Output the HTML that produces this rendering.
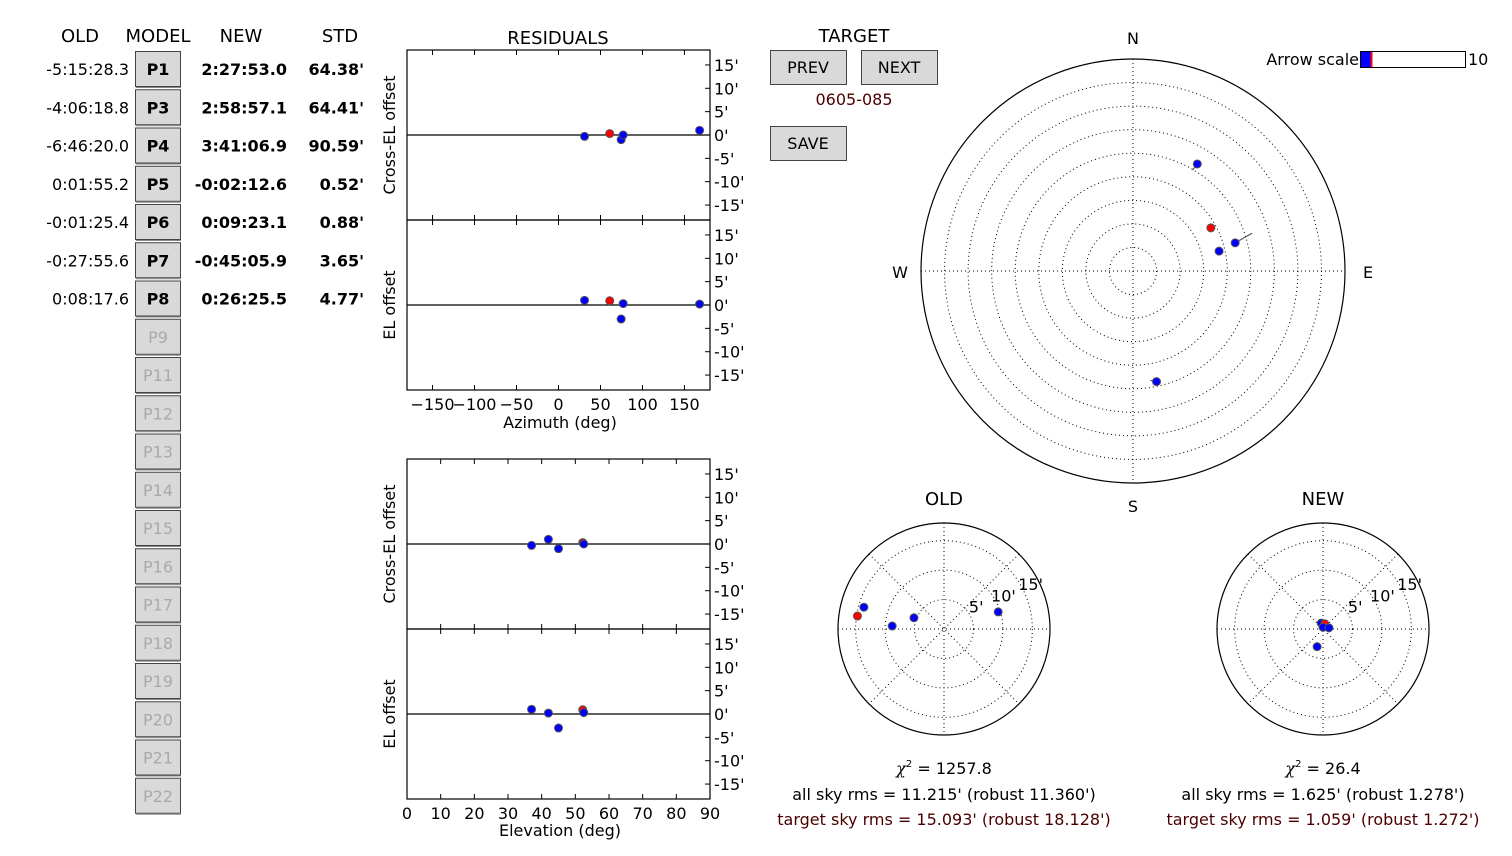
<!DOCTYPE html>
<html><head><meta charset="utf-8"><style>
body{margin:0;background:#fff;width:1512px;height:851px;overflow:hidden}
svg text{font-family:"DejaVu Sans","Liberation Sans",sans-serif}
</style></head><body>
<svg id="s" width="1512" height="851" xmlns="http://www.w3.org/2000/svg"></svg>
<script>
const oldVals=["-5:15:28.3","-4:06:18.8","-6:46:20.0","0:01:55.2","-0:01:25.4","-0:27:55.6","0:08:17.6"];
const newVals=["2:27:53.0","2:58:57.1","3:41:06.9","-0:02:12.6","0:09:23.1","-0:45:05.9","0:26:25.5"];
const stdVals=["64.38'","64.41'","90.59'","0.52'","0.88'","3.65'","4.77'"];
const params=["P1","P3","P4","P5","P6","P7","P8","P9","P11","P12","P13","P14","P15","P16","P17","P18","P19","P20","P21","P22"];
// sources
const srcAz=[31,61,74.6,77,168];
const srcEl=[37,52.2,45,52.5,42];
const srcTarget=[false,true,false,false,false];
const resXel=[-0.3,0.3,-1,0,1];
const resEl=[1,0.9,-3,0.3,0.2];
const oldXel=[-13.6,-14.7,-5.1,-8.8,9.2];
const oldEl=[3.7,2.2,1.9,0.5,2.9];
const arrowDx=[-0.8,0,2.8,0,-1];
const arrowDy=[-1,0,1.6,0,0.2];
const resTicks=[15,10,5,0,-5,-10,-15];
const azTicks=[-150,-100,-50,0,50,100,150];
const elTicks=[0,10,20,30,40,50,60,70,80,90];
const ringTicks=[5,10,15];

const S=document.getElementById('s');const NS='http://www.w3.org/2000/svg';
function el(tag,a,p){const e=document.createElementNS(NS,tag);for(const k in a)e.setAttribute(k,a[k]);(p||S).appendChild(e);return e;}
function tx(x,y,t,a,p){a=Object.assign({x:x,y:y,'font-size':16,fill:'#000'},a||{});const e=el('text',a,p);e.textContent=t;return e;}

// left table
let h;
h=tx(80,42,"OLD",{'text-anchor':'middle','font-size':18});
h=tx(158,42,"MODEL",{'text-anchor':'middle','font-size':18});
h=tx(241,42,"NEW",{'text-anchor':'middle','font-size':18});
h=tx(340,42,"STD",{'text-anchor':'middle','font-size':18});
for(let i=0;i<params.length;i++){
  const y=51+i*38.25;
  const g=el('g',{});
  
  
  el('rect',{x:135.5,y:y+0.5,width:45,height:35,fill:'#d9d9d9',stroke:'#444','stroke-width':1},g);
  el('line',{x1:136,y1:y+36.5,x2:181,y2:y+36.5,stroke:'#888'},g);
  tx(158,y+24,params[i],{'text-anchor':'middle','font-weight':i<7?'bold':'normal',fill:i<7?'#000':'#aaa'},g);
  if(i<7){
    let t=tx(129,y+24,oldVals[i],{'text-anchor':'end'});
    t=tx(287,y+24,newVals[i],{'text-anchor':'end','font-weight':'bold'});
    t=tx(364,y+24,stdVals[i],{'text-anchor':'end','font-weight':'bold'});
  }
}

// residual panels
function panel(x0,y0,w,hh,xmin,xmax,xs,ys,ylab,xticks,showX){
  const g=el('g',{});
  
  
  const X=v=>x0+(v-xmin)/(xmax-xmin)*w;
  const Y=v=>y0+hh/2-v*hh/2/18.2;
  el('rect',{x:x0,y:y0,width:w,height:hh,fill:'none',stroke:'#000','stroke-width':1.2},g);
  el('line',{x1:x0,x2:x0+w,y1:Y(0),y2:Y(0),stroke:'#000','stroke-width':1.2},g);
  for(const t of resTicks){el('line',{x1:x0+w,x2:x0+w-5,y1:Y(t),y2:Y(t),stroke:'#000'},g);
    tx(x0+w+4,Y(t)+6,t+"'",{},g);}
  for(const t of xticks){el('line',{x1:X(t),x2:X(t),y1:y0+hh,y2:y0+hh-5,stroke:'#000'},g);el('line',{x1:X(t),x2:X(t),y1:y0,y2:y0+5,stroke:'#000'},g);
    if(showX)tx(X(t),y0+hh+20,String(t).replace('-','\u2212'),{'text-anchor':'middle'},g);}
  tx(0,0,ylab,{'text-anchor':'middle',transform:`translate(${x0-12},${y0+hh/2}) rotate(-90)`},g);
  for(let i=0;i<xs.length;i++){const c=el('circle',{cx:X(xs[i]),cy:Y(ys[i]),r:4,fill:srcTarget[i]?'#f00':'#00f',stroke:'#555','stroke-width':1},g);
    }
}
tx(558,44,"RESIDUALS",{'text-anchor':'middle','font-size':18});
panel(407,50,303,170,-180.4,180.4,srcAz,resXel,"Cross-EL offset",azTicks,false);
panel(407,220,303,170,-180.4,180.4,srcAz,resEl,"EL offset",azTicks,true);
tx(560,428,"Azimuth (deg)",{'text-anchor':'middle'});
panel(407,459,303,170,0,90,srcEl,resXel,"Cross-EL offset",elTicks,false);
panel(407,629,303,170,0,90,srcEl,resEl,"EL offset",elTicks,true);
tx(560,836,"Elevation (deg)",{'text-anchor':'middle'});

// target buttons
tx(854,42,"TARGET",{'text-anchor':'middle','font-size':18});
function btn(x,y,w,hh,t,n){const g=el('g',{});
  el('rect',{x:x+.5,y:y+.5,width:w,height:hh,fill:'#d9d9d9',stroke:'#444'},g);tx(x+w/2,y+hh/2+6,t,{'text-anchor':'middle'},g);}
btn(770,50,76,34,"PREV","prev-button");btn(861,50,76,34,"NEXT","next-button");btn(770,126,76,34,"SAVE","save-button");
tx(854,105,"0605-085",{'text-anchor':'middle',fill:'#4b0000'});

// arrow scale
tx(1359,65,"Arrow scale",{'text-anchor':'end'});
h=el('rect',{x:1360.5,y:51.5,width:105,height:16,fill:'#fff',stroke:'#000'});
el('rect',{x:1361,y:52,width:10,height:15,fill:'#00f'});
el('line',{x1:1371.5,x2:1371.5,y1:52,y2:67,stroke:'#f00','stroke-width':2});
tx(1468,65,"10",{});

// big sky polar
(function(){const cx=1133,cy=271,R=212;const g=el('g',{});
  for(let z=10;z<90;z+=10)el('circle',{cx:cx,cy:cy,r:R*z/90,fill:'none',stroke:'#000','stroke-width':1,'stroke-dasharray':'1,3'},g);
  el('line',{x1:cx-R,x2:cx+R,y1:cy,y2:cy,stroke:'#000','stroke-dasharray':'1,3'},g);
  el('line',{x1:cx,x2:cx,y1:cy-R,y2:cy+R,stroke:'#000','stroke-dasharray':'1,3'},g);
  el('circle',{cx:cx,cy:cy,r:R,fill:'none',stroke:'#000','stroke-width':1.2},g);
  tx(cx,44,"N",{'text-anchor':'middle'},g);tx(cx,512,"S",{'text-anchor':'middle'},g);
  tx(900,278,"W",{'text-anchor':'middle'},g);tx(1368,278,"E",{'text-anchor':'middle'},g);
  for(let i=0;i<srcAz.length;i++){const r=R*(90-srcEl[i])/90,a=srcAz[i]*Math.PI/180;const x=cx+r*Math.sin(a),y=cy-r*Math.cos(a);
    el('line',{x1:x,y1:y,x2:x+arrowDx[i]*6,y2:y-arrowDy[i]*6,stroke:'#555','stroke-width':1.2},g);
    const c=el('circle',{cx:x,cy:y,r:4,fill:srcTarget[i]?'#f00':'#00f',stroke:'#555'},g);
    }
})();

// small polars
function small(cx,title,xs,ys,chi,rms,trms,n){const cy=629,R=106,k=R/18;const g=el('g',{});
  tx(cx,505,title,{'text-anchor':'middle','font-size':18},g);
  for(const r of ringTicks)el('circle',{cx:cx,cy:cy,r:r*k,fill:'none',stroke:'#000','stroke-dasharray':'1,3'},g);
  for(let a=0;a<180;a+=45){const c=Math.cos(a*Math.PI/180),s=Math.sin(a*Math.PI/180);
    el('line',{x1:cx-R*c,y1:cy-R*s,x2:cx+R*c,y2:cy+R*s,stroke:'#000','stroke-dasharray':'1,3'},g);}
  el('circle',{cx:cx,cy:cy,r:R,fill:'none',stroke:'#000','stroke-width':1.2},g);
  for(const r of ringTicks){const a=22.5*Math.PI/180;tx(cx+r*k*Math.cos(a)+5,cy-r*k*Math.sin(a)-5,r+"'",{'text-anchor':'middle'},g);}
  for(let i=0;i<xs.length;i++){const c=el('circle',{cx:cx+xs[i]*k,cy:cy-ys[i]*k,r:4,fill:srcTarget[i]?'#f00':'#00f',stroke:'#555'},g);
    }
  const t=tx(cx,774,"",{'text-anchor':'middle'},g);
  const a1=document.createElementNS(NS,'tspan');a1.setAttribute('font-family','DejaVu Serif,serif');a1.setAttribute('font-style','italic');a1.textContent='\u03c7';t.appendChild(a1);
  const a2=document.createElementNS(NS,'tspan');a2.setAttribute('font-size','10');a2.setAttribute('dy','-7');a2.textContent='2';t.appendChild(a2);
  const a3=document.createElementNS(NS,'tspan');a3.setAttribute('dy','7');a3.textContent='  = '+chi;t.appendChild(a3);
  tx(cx,800,rms,{'text-anchor':'middle'},g);
  tx(cx,825,trms,{'text-anchor':'middle',fill:'#4b0000'},g);
}
small(944,"OLD",oldXel,oldEl,"1257.8","all sky rms = 11.215' (robust 11.360')","target sky rms = 15.093' (robust 18.128')","old-offset-polar");
small(1323,"NEW",resXel,resEl,"26.4","all sky rms = 1.625' (robust 1.278')","target sky rms = 1.059' (robust 1.272')","new-offset-polar");
</script>
</body></html>
